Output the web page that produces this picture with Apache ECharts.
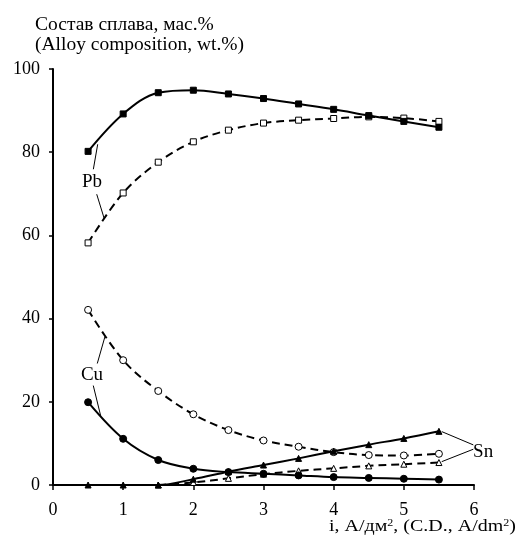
<!DOCTYPE html>
<html>
<head>
<meta charset="utf-8">
<script src="https://cdn.jsdelivr.net/npm/echarts@6/dist/echarts.min.js"></script>
<style>html,body{margin:0;padding:0;background:#fff}#c{width:518px;height:541px}</style>
</head>
<body>
<div id="c"></div>
<script>
const xValues = [0.5, 1.0, 1.5, 2.0, 2.5, 3.0, 3.5, 4.0, 4.5, 5.0, 5.5];
const pbSolid = [80.2, 89.2, 94.3, 94.9, 94.0, 92.9, 91.6, 90.3, 88.8, 87.4, 86.0];
const pbDashed = [58.2, 70.2, 77.6, 82.5, 85.3, 87.0, 87.7, 88.1, 88.5, 88.2, 87.4];
const cuDashed = [42.1, 30.0, 22.6, 17.0, 13.2, 10.7, 9.2, 7.9, 7.2, 7.1, 7.5];
const cuSolid = [19.9, 11.1, 6.0, 3.9, 3.1, 2.7, 2.3, 1.9, 1.7, 1.5, 1.3];
const snSolid = [0, 0, 0, 1.4, 3.2, 4.8, 6.4, 8.1, 9.7, 11.2, 12.9];
const snDashed = [null, null, 0, 0.6, 1.6, 2.6, 3.4, 4.0, 4.6, 5.0, 5.4];
const xTicks = [0, 1, 2, 3, 4, 5, 6];
const yTicks = [0, 20, 40, 60, 80, 100];

const FONT = '"Liberation Serif", "DejaVu Serif", serif';
const pair = (vals) => xValues.map((x, i) => [x, vals[i]]).filter(p => p[1] !== null);

function mk(name, vals, dashed, symbol, filled, size) {
  return {
    name, type: 'line', data: pair(vals), smooth: 0.35,
    symbol, symbolSize: size, showSymbol: true,
    lineStyle: { color: '#000', width: 2, type: dashed ? [8, 5] : 'solid' },
    itemStyle: { color: filled ? '#000' : '#fff', borderColor: '#000', borderWidth: 1 },
    z: filled ? 3 : 2
  };
}

const leaders = [
  [[0.637, 81.9], [0.575, 75.9]],
  [[0.623, 69.9], [0.731, 64.0]],
  [[0.631, 29.2], [0.741, 35.7]],
  [[0.574, 23.9], [0.680, 16.6]],
  [[5.54, 12.84], [5.99, 9.64]],
  [[5.54, 5.61], [5.99, 8.60]]
];
const labels = [
  { text: 'Pb', at: [0.556, 72.8] },
  { text: 'Cu', at: [0.556, 26.5] },
  { text: 'Sn', at: [6.13, 7.95] }
];

const chart = echarts.init(document.getElementById('c'), null, { renderer: 'canvas' });
const series = [
  mk('Pb (2)', pbDashed, true, 'rect', false, 6),
  mk('Pb (1)', pbSolid, false, 'rect', true, 6),
  mk('Cu (2)', cuDashed, true, 'circle', false, 7),
  mk('Cu (1)', cuSolid, false, 'circle', true, 7),
  mk('Sn (2)', snDashed, true, 'triangle', false, 6),
  mk('Sn (1)', snSolid, false, 'triangle', true, 6),
  {
    type: 'scatter', data: [], silent: true, clip: false,
    markLine: {
      silent: true, symbol: 'none', animation: false,
      lineStyle: { color: '#000', width: 1, type: 'solid' },
      label: { show: false },
      data: leaders.map(l => [{ coord: l[0] }, { coord: l[1] }])
    }
  }
];

const baseGraphics = [
  { type: 'text', x: 35, y: 24.5, style: { text: 'Состав сплава, мас.%', font: '19.5px ' + FONT, fill: '#000', verticalAlign: 'middle' } },
  { type: 'text', x: 35, y: 45, style: { text: '(Alloy composition, wt.%)', font: '19.5px ' + FONT, fill: '#000', verticalAlign: 'middle' } },
  { type: 'text', x: 516, y: 536, scaleY: 0.8, style: {
      text: '{a|i, А/дм}{s|2}{a|, (C.D., A/dm}{s|2}{a|)}',
      align: 'right', verticalAlign: 'bottom',
      rich: {
        a: { fontFamily: FONT, fontSize: 20, fill: '#000', color: '#000' },
        s: { fontFamily: FONT, fontSize: 12, fill: '#000', color: '#000', padding: [0, 0, 10, 0] }
      }
    } }
];

chart.setOption({
  animation: false,
  backgroundColor: '#fff',
  grid: { left: 53, right: 44, top: 69, bottom: 56, containLabel: false },
  xAxis: {
    type: 'value', min: xTicks[0], max: xTicks[xTicks.length - 1], interval: 1,
    axisLine: { show: true, lineStyle: { color: '#000', width: 2 } },
    axisTick: { show: true, inside: false, length: 5, lineStyle: { color: '#000', width: 1.5 } },
    axisLabel: { color: '#000', fontFamily: FONT, fontSize: 18, margin: 16 },
    splitLine: { show: false }
  },
  yAxis: {
    type: 'value', min: yTicks[0], max: yTicks[yTicks.length - 1], interval: 20,
    axisLine: { show: true, lineStyle: { color: '#000', width: 2 } },
    axisTick: { show: true, inside: false, length: 4, lineStyle: { color: '#000', width: 1.5 } },
    axisLabel: { color: '#000', fontFamily: FONT, fontSize: 18, margin: 13 },
    splitLine: { show: false }
  },
  graphic: baseGraphics,
  series
});

const labelGraphics = labels.map(l => {
  const p = chart.convertToPixel({ gridIndex: 0 }, l.at);
  return { type: 'text', x: p[0], y: p[1], z: 10, style: { text: l.text, font: '19px ' + FONT, fill: '#000', align: 'center', verticalAlign: 'middle' } };
});
chart.setOption({ graphic: baseGraphics.concat(labelGraphics) }, { replaceMerge: ['graphic'] });
</script>
</body>
</html>
